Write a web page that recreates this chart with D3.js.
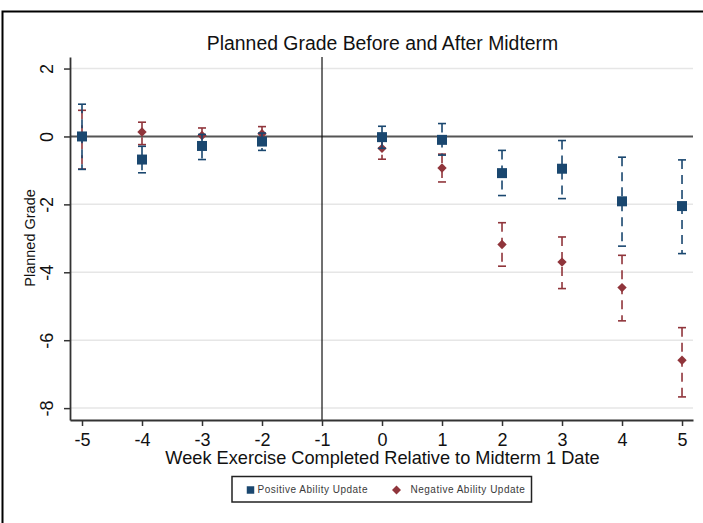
<!DOCTYPE html>
<html>
<head>
<meta charset="utf-8">
<script src="https://cdn.jsdelivr.net/npm/d3@7"></script>
<style>
  body { margin: 0; background: #fff; }
  svg { display: block; font-family: "Liberation Sans", Arial, sans-serif; }
</style>
</head>
<body>
<div id="chart"></div>
<script>
// weeks relative to midterm (week -1 is the omitted one)
var weeks = [-5, -4, -3, -2, 0, 1, 2, 3, 4, 5];

// positive ability update: estimate, lower and upper CI
var posEst = [0.0, -0.68, -0.28, -0.15, -0.02, -0.10, -1.08, -0.95, -1.91, -2.05];
var posLo  = [-0.97, -1.07, -0.68, -0.41, -0.35, -0.55, -1.74, -1.83, -3.23, -3.45];
var posHi  = [0.95, -0.29, 0.06, 0.10, 0.30, 0.38, -0.41, -0.12, -0.61, -0.69];

// negative ability update
var negEst = [0.0, 0.13, 0.03, 0.08, -0.35, -0.93, -3.18, -3.70, -4.45, -6.59];
var negLo  = [-0.96, -0.24, -0.20, -0.12, -0.67, -1.34, -3.82, -4.48, -5.43, -7.67];
var negHi  = [0.77, 0.42, 0.25, 0.29, -0.10, -0.52, -2.54, -2.96, -3.50, -5.63];

var xTicks = [-5, -4, -3, -2, -1, 0, 1, 2, 3, 4, 5];
var yTicks = [2, 0, -2, -4, -6, -8];

var blue = "#1a476f", red = "#90353b";

var width = 703, height = 523;
var svg = d3.select("#chart").append("svg")
    .attr("width", width)
    .attr("height", height);

// outer frame (only top and left edges fall inside the picture)
svg.append("rect")
    .attr("x", 2.5).attr("y", 11.5)
    .attr("width", 760).attr("height", 600)
    .attr("fill", "none").attr("stroke", "#000").attr("stroke-width", 2);

var x = d3.scaleLinear().domain([-5.2, 5.183]).range([70, 693]);
var y = d3.scaleLinear().domain([-8.35, 2.34]).range([420, 57]);

// plain hyphen for negatives, like the original
var fmt = function(d) { return String(d); };

// gridlines
svg.append("g").selectAll("line")
    .data(yTicks.filter(function(d) { return d != 0; }))
  .enter().append("line")
    .attr("x1", x.range()[0]).attr("x2", x.range()[1])
    .attr("y1", function(d) { return y(d); })
    .attr("y2", function(d) { return y(d); })
    .attr("stroke", "#e6e6e6").attr("stroke-width", 1.5);

// reference lines: y = 0 and week -1
svg.append("line")
    .attr("x1", x.range()[0]).attr("x2", x.range()[1])
    .attr("y1", y(0)).attr("y2", y(0))
    .attr("stroke", "#555").attr("stroke-width", 2);
svg.append("line")
    .attr("x1", x(-1)).attr("x2", x(-1))
    .attr("y1", y.range()[1]).attr("y2", y.range()[0])
    .attr("stroke", "#111").attr("stroke-width", 1.2);

// x axis
var xAxis = svg.append("g")
    .attr("transform", "translate(0," + y.range()[0] + ")")
    .call(d3.axisBottom(x).tickValues(xTicks).tickFormat(fmt)
      .tickSize(6).tickPadding(7).tickSizeOuter(0));
xAxis.select(".domain").attr("stroke", "#333").attr("stroke-width", 1.8);
xAxis.selectAll(".tick line").attr("stroke", "#333").attr("stroke-width", 1.5);
xAxis.selectAll("text").attr("font-size", 18).attr("fill", "#111")
    .attr("font-family", "Liberation Sans, Arial, sans-serif");

// y axis, labels turned vertical
var yAxis = svg.append("g")
    .attr("transform", "translate(" + x.range()[0] + ",0)")
    .call(d3.axisLeft(y).tickValues(yTicks).tickFormat(fmt)
      .tickSize(6).tickSizeOuter(0));
yAxis.select(".domain").attr("stroke", "#333").attr("stroke-width", 1.8);
yAxis.selectAll(".tick line").attr("stroke", "#333").attr("stroke-width", 1.5);
yAxis.selectAll("text")
    .attr("x", null).attr("dy", null)
    .attr("text-anchor", "middle")
    .attr("transform", "translate(-17,0) rotate(-90)")
    .attr("font-size", 18).attr("fill", "#111")
    .attr("font-family", "Liberation Sans, Arial, sans-serif");

// titles
svg.append("text")
    .attr("x", 382.5).attr("y", 49.5)
    .attr("text-anchor", "middle")
    .attr("font-size", 19.4).attr("fill", "#111")
    .text("Planned Grade Before and After Midterm");

svg.append("text")
    .attr("x", 382.5).attr("y", 463.5)
    .attr("text-anchor", "middle")
    .attr("font-size", 18.2).attr("fill", "#111")
    .text("Week Exercise Completed Relative to Midterm 1 Date");

svg.append("text")
    .attr("transform", "translate(34.5,238) rotate(-90)")
    .attr("text-anchor", "middle")
    .attr("font-size", 14.5).attr("fill", "#111")
    .text("Planned Grade");

// one series: caps, dashed CI line, markers
function drawSeries(est, lo, hi, color, marker) {
  var data = weeks.map(function(w, i) {
    return {w: w, est: est[i], lo: lo[i], hi: hi[i]};
  });
  var g = svg.append("g");

  g.selectAll(".ci").data(data).enter().append("line")
      .attr("x1", function(d) { return x(d.w); })
      .attr("x2", function(d) { return x(d.w); })
      .attr("y1", function(d) { return y(d.hi); })
      .attr("y2", function(d) { return y(d.lo); })
      .attr("stroke", color).attr("stroke-width", 1.6)
      .attr("stroke-dasharray", "9,6");

  ["hi", "lo"].forEach(function(k) {
    g.selectAll(".cap-" + k).data(data).enter().append("line")
        .attr("x1", function(d) { return x(d.w) - 4; })
        .attr("x2", function(d) { return x(d.w) + 4; })
        .attr("y1", function(d) { return y(d[k]); })
        .attr("y2", function(d) { return y(d[k]); })
        .attr("stroke", color).attr("stroke-width", 1.6);
  });

  g.selectAll(".pt").data(data).enter().append("path")
      .attr("d", marker)
      .attr("transform", function(d) {
        return "translate(" + x(d.w) + "," + y(d.est) + ")" + (color == red ? " rotate(45)" : "");
      })
      .attr("fill", color);
}

var squareMark = d3.symbol().type(d3.symbolSquare).size(100);
var diamondMark = d3.symbol().type(d3.symbolSquare).size(44);

drawSeries(negEst, negLo, negHi, red, diamondMark);
drawSeries(posEst, posLo, posHi, blue, squareMark);

// legend
var legend = svg.append("g");
legend.append("rect")
    .attr("x", 232).attr("y", 476.5)
    .attr("width", 299.5).attr("height", 25.5)
    .attr("fill", "#fff").attr("stroke", "#222").attr("stroke-width", 1.5);
legend.append("path")
    .attr("d", d3.symbol().type(d3.symbolSquare).size(56)())
    .attr("transform", "translate(250.5,490)")
    .attr("fill", blue);
legend.append("text")
    .attr("x", 257.5).attr("y", 493.3)
    .attr("font-size", 10).attr("letter-spacing", 0.5).attr("fill", "#3a3a3a")
    .text("Positive Ability Update");
legend.append("path")
    .attr("d", d3.symbol().type(d3.symbolSquare).size(40)())
    .attr("transform", "translate(396.5,490) rotate(45)")
    .attr("fill", red);
legend.append("text")
    .attr("x", 410.5).attr("y", 493.3)
    .attr("font-size", 10).attr("letter-spacing", 0.5).attr("fill", "#3a3a3a")
    .text("Negative Ability Update");
</script>
</body>
</html>
